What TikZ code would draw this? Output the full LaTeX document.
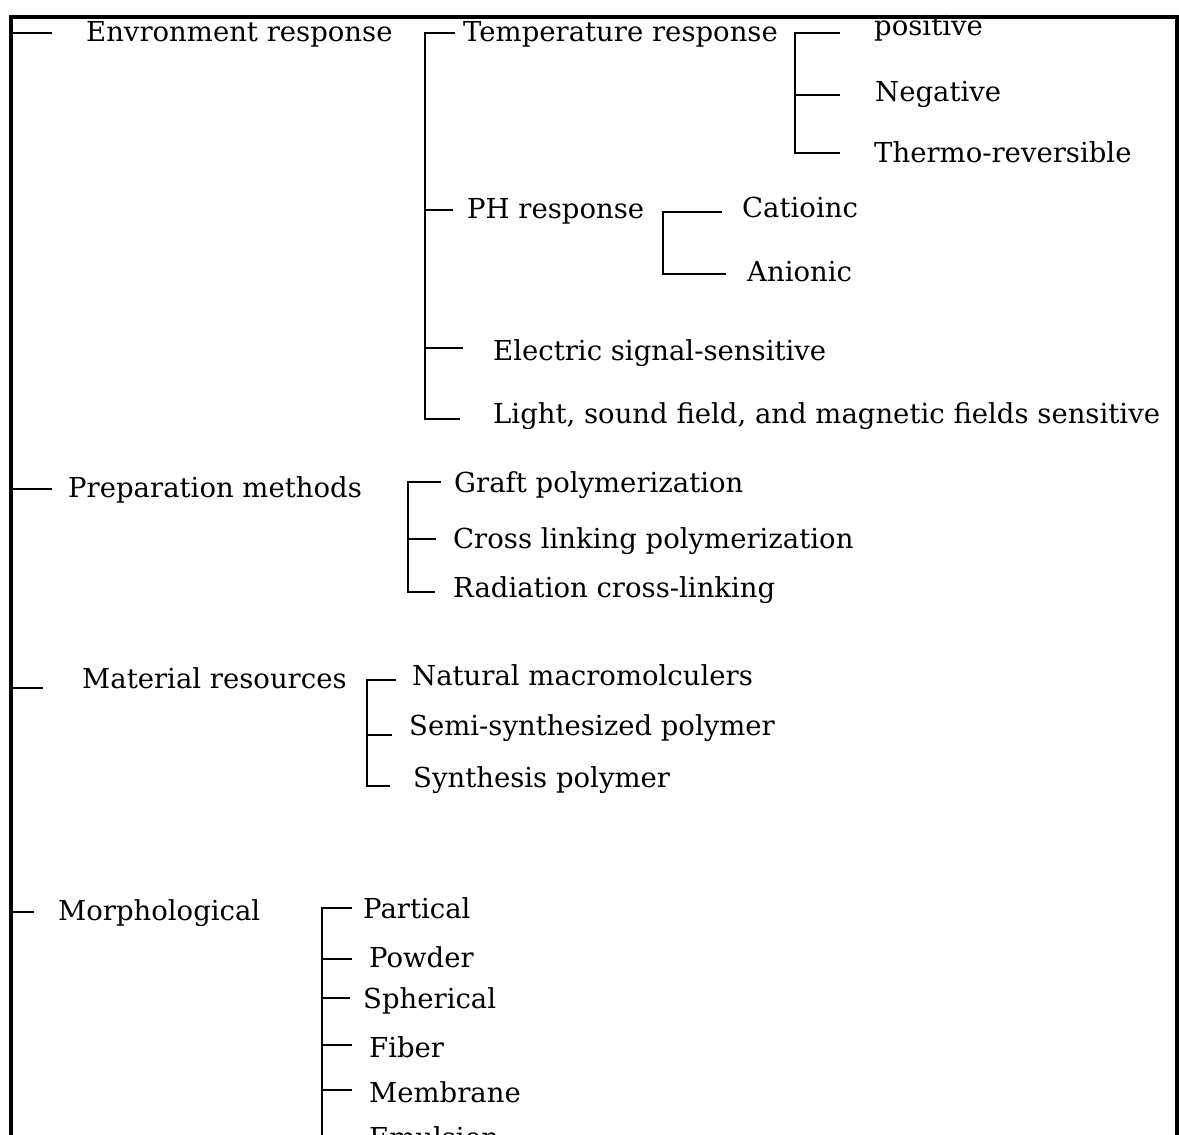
\documentclass[tikz,border=0pt]{standalone}
\usepackage{fontspec}
\setmainfont{DejaVu Serif}
\begin{document}
\begin{tikzpicture}[x=1pt,y=-1pt,
  lbl/.style={anchor=base west, inner sep=0pt, font=\fontsize{27.5}{30}\selectfont},
  framepath/.style={line width=3.5pt, line join=miter},
  br/.style={line width=2.6pt}]
\useasboundingbox (0,0) rectangle (1179,1135);
\clip (0,0) rectangle (1179,1135);
% frame / main trunk
\coordinate (fbl) at (11,1145);
\coordinate (ftl) at (11,17);
\coordinate (ftr) at (1177,17);
\coordinate (fbr) at (1177,1145);
\draw[framepath] (fbl) -- (ftl) -- (ftr) -- (fbr);

% level 1 labels
\node[lbl] (env) at (86,41) {Envronment response};
\node[lbl] (prep) at (68,497) {Preparation methods};
\node[lbl] (mat) at (82,688) {Material resources};
\node[lbl] (morph) at (58,920) {Morphological};

% level 1 ticks
\coordinate (r1) at (11,33);  \coordinate (r1e) at (52,33);
\coordinate (r2) at (11,489); \coordinate (r2e) at (52,489);
\coordinate (r3) at (11,688); \coordinate (r3e) at (43,688);
\coordinate (r4) at (11,912); \coordinate (r4e) at (34,912);
\draw[br] (r1) -- (r1e);
\draw[br] (r2) -- (r2e);
\draw[br] (r3) -- (r3e);
\draw[br] (r4) -- (r4e);

% Environment response subtree
\node[lbl] (temp) at (463,41) {Temperature response};
\node[lbl] (ph) at (467,218) {PH response};
\node[lbl] (elec) at (493,360) {Electric signal-sensitive};
\node[lbl] (light) at (493,423) {Light, sound field, and magnetic fields sensitive};
\coordinate (e1) at (425,33);  \coordinate (e1e) at (455,33);
\coordinate (e2) at (425,210); \coordinate (e2e) at (453,210);
\coordinate (e3) at (425,348); \coordinate (e3e) at (463,348);
\coordinate (e4) at (425,419); \coordinate (e4e) at (460,419);
\draw[br] (e1e) -- (e1) -- (e4) -- (e4e);
\draw[br] (e2) -- (e2e);
\draw[br] (e3) -- (e3e);

% Temperature subtree
\node[lbl] (pos) at (874,35) {positive};
\node[lbl] (neg) at (875,101) {Negative};
\node[lbl] (thermo) at (874,162) {Thermo-reversible};
\coordinate (t1) at (795,33);  \coordinate (t1e) at (840,33);
\coordinate (t2) at (795,95);  \coordinate (t2e) at (840,95);
\coordinate (t3) at (795,153); \coordinate (t3e) at (840,153);
\draw[br] (t1e) -- (t1) -- (t3) -- (t3e);
\draw[br] (t2) -- (t2e);

% PH subtree
\node[lbl] (cat) at (742,217) {Catioinc};
\node[lbl] (ani) at (747,281) {Anionic};
\coordinate (p1) at (663,212); \coordinate (p1e) at (722,212);
\coordinate (p2) at (663,274); \coordinate (p2e) at (726,274);
\draw[br] (p1e) -- (p1) -- (p2) -- (p2e);

% Preparation subtree
\node[lbl] (graft) at (454,492) {Graft polymerization};
\node[lbl] (cross) at (453,548) {Cross linking polymerization};
\node[lbl] (rad) at (453,597) {Radiation cross-linking};
\coordinate (g1) at (408,482); \coordinate (g1e) at (441,482);
\coordinate (g2) at (408,539); \coordinate (g2e) at (436,539);
\coordinate (g3) at (408,592); \coordinate (g3e) at (435,592);
\draw[br] (g1e) -- (g1) -- (g3) -- (g3e);
\draw[br] (g2) -- (g2e);

% Material subtree
\node[lbl] (nat) at (412,685) {Natural macromolculers};
\node[lbl] (semi) at (409,735) {Semi-synthesized polymer};
\node[lbl] (syn) at (413,787) {Synthesis polymer};
\coordinate (m1) at (367,680); \coordinate (m1e) at (396,680);
\coordinate (m2) at (367,735); \coordinate (m2e) at (392,735);
\coordinate (m3) at (367,786); \coordinate (m3e) at (390,786);
\draw[br] (m1e) -- (m1) -- (m3) -- (m3e);
\draw[br] (m2) -- (m2e);

% Morphological subtree
\node[lbl] (part) at (363,918) {Partical};
\node[lbl] (powd) at (369,967) {Powder};
\node[lbl] (sph) at (363,1008) {Spherical};
\node[lbl] (fib) at (369,1057) {Fiber};
\node[lbl] (memb) at (369,1102) {Membrane};
\node[lbl] (emul) at (369,1147) {Emulsion};
\coordinate (f1) at (322,908);  \coordinate (f1e) at (352,908);
\coordinate (f2) at (322,959);  \coordinate (f2e) at (352,959);
\coordinate (f3) at (322,998);  \coordinate (f3e) at (350,998);
\coordinate (f4) at (322,1045); \coordinate (f4e) at (352,1045);
\coordinate (f5) at (322,1090); \coordinate (f5e) at (352,1090);
\coordinate (fb) at (322,1145);
\draw[br] (f1e) -- (f1) -- (fb);
\draw[br] (f2) -- (f2e);
\draw[br] (f3) -- (f3e);
\draw[br] (f4) -- (f4e);
\draw[br] (f5) -- (f5e);
\end{tikzpicture}
\end{document}
